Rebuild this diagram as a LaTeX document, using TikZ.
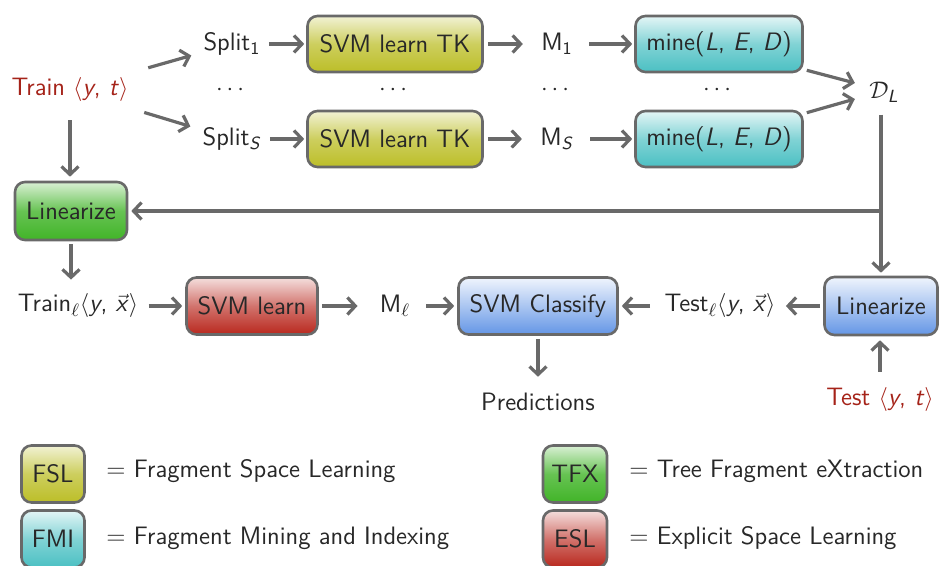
\documentclass[tikz,border=0pt]{standalone}
\usepackage{amsmath}
\usetikzlibrary{arrows.meta,calc}
\renewcommand\familydefault{\sfdefault}
\definecolor{linegray}{RGB}{105,105,105}
\definecolor{txt}{RGB}{40,40,40}
\definecolor{trainred}{RGB}{165,35,25}
\definecolor{yelC}{RGB}{188,190,40}
\definecolor{tealC}{RGB}{75,192,195}
\definecolor{greenC}{RGB}{65,180,40}
\definecolor{redC}{RGB}{185,40,30}
\definecolor{blueC}{RGB}{100,150,230}
\newcommand{\mv}[1]{\textsl{#1}}
\tikzset{
  box/.style={draw=linegray, line width=1.3pt, rounded corners=5pt, text=txt, inner sep=2pt},
  fsl/.style={box, top color=yelC!20!white, bottom color=yelC, middle color=yelC!75!white},
  fmi/.style={box, top color=tealC!15!white, bottom color=tealC, middle color=tealC!70!white},
  tfx/.style={box, top color=greenC!20!white, bottom color=greenC, middle color=greenC!80!white},
  esl/.style={box, top color=redC!15!white, bottom color=redC, middle color=redC!65!white},
  cls/.style={box, top color=blueC!10!white, bottom color=blueC, middle color=blueC!55!white},
  lab/.style={text=txt, inner sep=3pt},
  arr/.style={draw=linegray, line width=1.6pt, -{Straight Barb[length=4pt,width=8.5pt]}},
}
\begin{document}
\begin{tikzpicture}[x=0.5pt, y=-0.5pt, font=\fontsize{12.6}{15}\selectfont]
\useasboundingbox (0,0) rectangle (939,566);
\clip (0,0) rectangle (939,566);
% row 1 and S
\node[lab, text=trainred] (train) at (70,90) {Train $\langle$\mv{y}, \mv{t}$\rangle$};
\node[lab] (split1) at (232,44) {Split$_{\text{1}}$};
\node[lab] (splitS) at (232,139) {Split$_{\text{\mv{S}}}$};
\node[fsl, minimum width=87.5pt, minimum height=28pt] (tk1) at (395,44) {SVM learn TK};
\node[fsl, minimum width=87.5pt, minimum height=28pt] (tkS) at (395,139) {SVM learn TK};
\node[lab] (m1) at (557,44) {M$_{\text{1}}$};
\node[lab] (mS) at (557,139) {M$_{\text{\mv{S}}}$};
\node[fmi, minimum width=83.5pt, minimum height=28pt] (mine1) at (719,44) {mine(\mv{L}, \mv{E}, \mv{D})};
\node[fmi, minimum width=83.5pt, minimum height=28pt] (mineS) at (719,139) {mine(\mv{L}, \mv{E}, \mv{D})};
\node[lab] (d1) at (232,90) {$\cdots$};
\node[lab] (d2) at (395,90) {$\cdots$};
\node[lab] (d3) at (557,90) {$\cdots$};
\node[lab] (d4) at (719,90) {$\cdots$};
\node[lab] (dl) at (884,92) {$\mathcal{D}_{\text{\mv{L}}}$};
% middle
\node[tfx, minimum width=56pt, minimum height=29pt] (lin1) at (71,211) {Linearize};
\node[lab] (trainl) at (78,306) {Train$_\ell\langle$\mv{y}, $\vec{\text{\mv{x}}}\rangle$};
\node[esl, minimum width=65.5pt, minimum height=28.5pt] (svml) at (252,306) {SVM learn};
\node[lab] (ml) at (395,306) {M$_\ell$};
\node[cls, minimum width=79.5pt, minimum height=28.5pt] (classify) at (538,306) {SVM Classify};
\node[lab] (testl) at (720,306) {Test$_\ell\langle$\mv{y}, $\vec{\text{\mv{x}}}\rangle$};
\node[cls, minimum width=56.5pt, minimum height=29pt] (lin2) at (881,306) {Linearize};
\node[lab] (pred) at (538,402) {Predictions};
\node[lab, text=trainred] (test) at (880,400) {Test $\langle$\mv{y}, \mv{t}$\rangle$};
% legend
\node[fsl, minimum width=31.5pt, minimum height=28.5pt] (lfsl) at (53,474) {FSL};
\node[fmi, minimum width=31.5pt, minimum height=28.5pt] (lfmi) at (53,539) {FMI};
\node[tfx, minimum width=32pt, minimum height=28.5pt] (ltfx) at (575,474) {TFX};
\node[esl, minimum width=32pt, minimum height=28.5pt] (lesl) at (575,539) {ESL};
\node[lab, anchor=west] (tfsl) at (100,471) {= Fragment Space Learning};
\node[lab, anchor=west] (tfmi) at (100,538) {= Fragment Mining and Indexing};
\node[lab, anchor=west] (ttfx) at (623,471) {= Tree Fragment eXtraction};
\node[lab, anchor=west] (tesl) at (623,538) {= Explicit Space Learning};
% connectors
\draw[arr, shorten <=7pt, shorten >=3pt] (train) -- (split1);
\draw[arr, shorten <=7pt, shorten >=3pt] (train) -- (splitS);
\draw[arr, shorten <=1pt, shorten >=1pt] (split1) -- (tk1);
\draw[arr, shorten <=1pt, shorten >=1pt] (splitS) -- (tkS);
\draw[arr, shorten <=2pt, shorten >=6pt] (tk1) -- (m1);
\draw[arr, shorten <=2pt, shorten >=6pt] (tkS) -- (mS);
\draw[arr, shorten <=5pt, shorten >=1pt] (m1) -- (mine1);
\draw[arr, shorten <=5pt, shorten >=1pt] (mS) -- (mineS);
\draw[arr] ($(mine1.south east)+(3,-3)$) -- ($(dl.west)+(-8,-9)$);
\draw[arr] ($(mineS.north east)+(3,3)$) -- ($(dl.west)+(-8,7)$);
\draw[arr, shorten <=3pt, shorten >=1.5pt] (lin2.north |- dl.south) -- (lin2.north);
\draw[arr, shorten >=1.5pt] (lin2.north |- lin1.east) -- (lin1.east);
\draw[arr, shorten <=6pt, shorten >=2pt] (train.south) -- (train.south |- lin1.north);
\draw[arr, shorten <=1.5pt, shorten >=4pt] (lin1.south) -- (lin1.south |- trainl.north);
\draw[arr, shorten <=2pt, shorten >=1.5pt] (trainl) -- (svml);
\draw[arr, shorten <=1.5pt, shorten >=8pt] (svml) -- (ml);
\draw[arr, shorten <=5pt, shorten >=1.5pt] (ml) -- (classify);
\draw[arr, shorten <=4pt, shorten >=1.5pt] (testl) -- (classify);
\draw[arr, shorten <=1.5pt, shorten >=2pt] (lin2) -- (testl);
\draw[arr, shorten <=1.5pt, shorten >=5pt] (classify.south) -- (pred.north);
\draw[arr, shorten <=5pt, shorten >=2pt] (test.north) -- (test.north |- lin2.south);
\end{tikzpicture}
\end{document}
